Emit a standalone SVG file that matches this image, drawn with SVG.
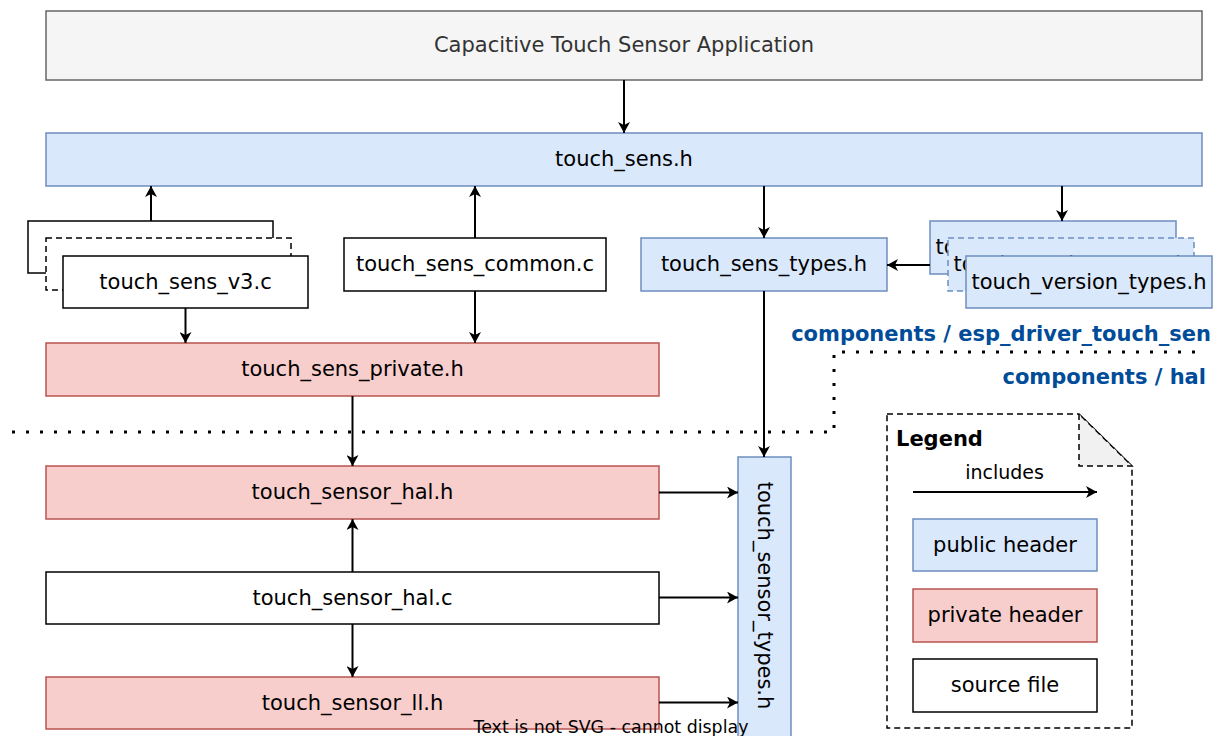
<svg xmlns="http://www.w3.org/2000/svg" width="1215" height="736" viewBox="0 0 1215 736">
<style>
text{font-family:"DejaVu Sans","Liberation Sans",sans-serif;font-size:21px;fill:#000;text-anchor:middle}
.pub{fill:#dae8fc;stroke:#6c8ebf;stroke-width:1.5}
.pri{fill:#f8cecc;stroke:#b85450;stroke-width:1.5}
.src{fill:#fff;stroke:#000;stroke-width:1.5}
.app{fill:#f5f5f5;stroke:#666;stroke-width:1.5}
.dash{stroke-dasharray:6 4}
.edge{fill:none;stroke:#000;stroke-width:2;marker-end:url(#arr)}
.zone{font-weight:bold;fill:#004c99;text-anchor:end}
</style>
<defs>
<marker id="arr" viewBox="0 0 11 12" refX="11" refY="6" markerWidth="11" markerHeight="12" markerUnits="userSpaceOnUse" orient="auto">
<path d="M0,0 L11,6 L0,12 L3,6 Z" fill="#000"/>
</marker>
</defs>

<g id="app"><rect class="app" x="46" y="11" width="1156" height="69"/><text x="624" y="52" style="fill:#333">Capacitive Touch Sensor Application</text></g>
<g id="touch_sens_h"><rect class="pub" x="46" y="133" width="1156" height="53"/><text x="624" y="166">touch_sens.h</text></g>

<g id="touch_sens_vx">
<rect class="src" x="28" y="221" width="245" height="52"/>
<rect class="src dash" x="46" y="238" width="245" height="52"/>
<rect class="src" x="63" y="256" width="245" height="52"/>
<text x="185.5" y="288.5">touch_sens_v3.c</text>
</g>
<g id="touch_sens_common"><rect class="src" x="344" y="238" width="262" height="53"/><text x="475" y="271">touch_sens_common.c</text></g>
<g id="touch_sens_types"><rect class="pub" x="641" y="238" width="246" height="53"/><text x="764" y="271">touch_sens_types.h</text></g>
<g id="touch_version_types">
<rect class="pub" x="930" y="221" width="246" height="53"/><text x="1053" y="254">touch_version_types.h</text>
<rect class="pub dash" x="948" y="238" width="246" height="53"/><text x="1071" y="271">touch_version_types.h</text>
<rect class="pub" x="966" y="256" width="246" height="52"/><text x="1089" y="288.5">touch_version_types.h</text>
</g>
<g id="touch_sens_private"><rect class="pri" x="46" y="343" width="613" height="53"/><text x="352.5" y="376">touch_sens_private.h</text></g>

<g id="boundary">
<path d="M12,432 H834 V352 H1205" fill="none" stroke="#000" stroke-width="3" stroke-dasharray="3 11"/>
<text class="zone" x="1211" y="341">components / esp_driver_touch_sen</text>
<text class="zone" x="1206" y="384">components / hal</text>
</g>

<g id="touch_sensor_hal_h"><rect class="pri" x="46" y="466" width="613" height="53"/><text x="352.5" y="499">touch_sensor_hal.h</text></g>
<g id="touch_sensor_hal_c"><rect class="src" x="46" y="572" width="613" height="52"/><text x="352.5" y="604.5">touch_sensor_hal.c</text></g>
<g id="touch_sensor_ll_h"><rect class="pri" x="46" y="677" width="613" height="52"/><text x="352.5" y="709.5">touch_sensor_ll.h</text></g>
<g id="touch_sensor_types"><rect class="pub" x="738" y="457" width="53" height="285"/><text transform="translate(764,595.5) rotate(90)" x="0" y="6.5">touch_sensor_types.h</text></g>

<g id="legend">
<path d="M887,414 H1079 L1132,466 V728 H887 Z" fill="#fff" stroke="#000" stroke-width="1.5" stroke-dasharray="6 4"/>
<path d="M1079,414 V466 H1132 Z" fill="#f1f1f1" stroke="#000" stroke-width="1.5" stroke-dasharray="6 4"/>
<text x="896" y="446" style="font-weight:bold;text-anchor:start">Legend</text>
<text x="1004.5" y="479" style="font-size:19px">includes</text>
<line class="edge" x1="913" y1="492" x2="1097" y2="492"/>
<rect class="pub" x="913" y="519" width="184" height="52"/><text x="1005" y="551.5">public header</text>
<rect class="pri" x="913" y="589" width="184" height="53"/><text x="1005" y="622">private header</text>
<rect class="src" x="913" y="659" width="184" height="53"/><text x="1005" y="692">source file</text>
</g>

<g id="connectors">
<line class="edge" x1="624" y1="80" x2="624" y2="133"/>
<line class="edge" x1="151" y1="221" x2="151" y2="186"/>
<line class="edge" x1="475" y1="238" x2="475" y2="186"/>
<line class="edge" x1="764" y1="186" x2="764" y2="238"/>
<line class="edge" x1="1062" y1="186" x2="1062" y2="221"/>
<line class="edge" x1="930" y1="265" x2="887" y2="265"/>
<line class="edge" x1="185.5" y1="308" x2="185.5" y2="343"/>
<line class="edge" x1="475" y1="291" x2="475" y2="343"/>
<line class="edge" x1="764" y1="291" x2="764" y2="457"/>
<line class="edge" x1="352.5" y1="396" x2="352.5" y2="466"/>
<line class="edge" x1="352.5" y1="572" x2="352.5" y2="519"/>
<line class="edge" x1="352.5" y1="624" x2="352.5" y2="677"/>
<line class="edge" x1="659" y1="492.5" x2="738" y2="492.5"/>
<line class="edge" x1="659" y1="597.5" x2="738" y2="597.5"/>
<line class="edge" x1="659" y1="702.5" x2="738" y2="702.5"/>
</g>

<text x="611" y="733" style="font-size:17.4px">Text is not SVG - cannot display</text>
</svg>
